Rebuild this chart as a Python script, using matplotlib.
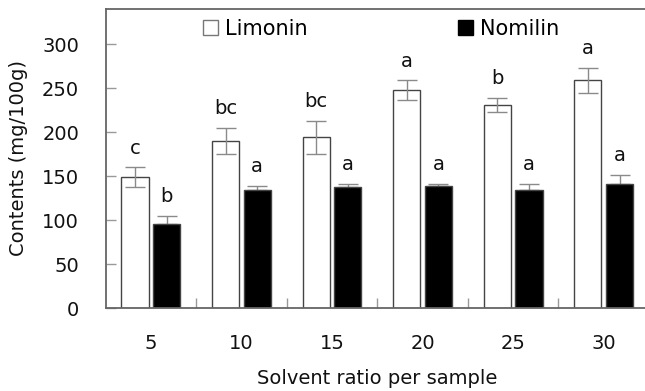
import matplotlib
matplotlib.use("Agg")
import matplotlib.pyplot as plt
import numpy as np
from matplotlib.patches import Patch

plt.rcParams['font.family'] = ['DejaVu Sans']

categories = ["5", "10", "15", "20", "25", "30"]
limonin = [149, 190, 194, 248, 231, 259]
limonin_err = [11, 15, 19, 11, 8, 14]
nomilin = [96, 134, 138, 139, 134, 141]
nomilin_err = [9, 5, 3, 2.5, 7, 10]
limonin_letters = ["c", "bc", "bc", "a", "b", "a"]
nomilin_letters = ["b", "a", "a", "a", "a", "a"]
yticks = [0, 50, 100, 150, 200, 250, 300]

W, H = 645, 391
fig = plt.figure(figsize=(W / 100, H / 100), dpi=100)
left, right, top, bottom = 105.6, 649, 9, 308
ax = fig.add_axes([left / W, (H - bottom) / H, (right - left) / W, (bottom - top) / H])

x = np.arange(len(categories))
bw = 0.30
off = 0.175
edge = '#444444'
ecol = '#8a8a8a'

ax.bar(x - off, limonin, bw, color='white', edgecolor=edge, linewidth=1.0, zorder=2)
ax.bar(x + off, nomilin, bw, color='black', edgecolor=edge, linewidth=1.0, zorder=2)
ax.errorbar(x - off, limonin, yerr=limonin_err, fmt='none', ecolor=ecol, elinewidth=1.0,
            capsize=7, capthick=1.0, zorder=3)
ax.errorbar(x + off, nomilin, yerr=[np.zeros(len(nomilin)), nomilin_err], fmt='none', ecolor=ecol,
            elinewidth=1.0, capsize=7, capthick=1.0, zorder=1)

for xi, v, e, t in zip(x - off, limonin, limonin_err, limonin_letters):
    ax.annotate(t, (xi, v + e), xytext=(0, 7), textcoords='offset points', ha='center', va='bottom',
                fontsize=14, color='#111111')
for xi, v, e, t in zip(x + off, nomilin, nomilin_err, nomilin_letters):
    ax.annotate(t, (xi, v + e), xytext=(0, 7), textcoords='offset points', ha='center', va='bottom',
                fontsize=14, color='#111111')

ax.set_xlim(-0.5, len(categories) - 0.5)
ax.set_ylim(0, 340)
ax.set_yticks(yticks)
ax.set_xticks(x)
ax.set_xticklabels(categories)
ax.set_xticks(np.arange(0.5, len(categories) - 0.5, 1.0), minor=True)
ax.tick_params(axis='x', which='major', length=0, pad=19, labelsize=14, labelcolor='#111111')
ax.tick_params(axis='x', which='minor', direction='in', length=7, color='#999999', width=1)
ax.tick_params(axis='y', direction='in', length=7, color='#999999', width=1, pad=19,
               labelsize=14, labelcolor='#111111')

for s in ax.spines.values():
    s.set_color('#666666')
    s.set_linewidth(1.3)

ax.set_ylabel("Contents (mg/100g)", fontsize=14, color='#111111', labelpad=10)
ax.set_xlabel("Solvent ratio per sample", fontsize=14, color='#111111', labelpad=11)

handles = [Patch(facecolor='white', edgecolor='#777777', linewidth=1.0, label='Limonin'),
           Patch(facecolor='black', edgecolor='black', label='Nomilin')]
ax.legend(handles=handles, ncol=2, loc='upper left', bbox_to_anchor=(0.179, 0.968), frameon=False,
          fontsize=15, handlelength=0.72, handleheight=0.72, handletextpad=0.34, columnspacing=7.2,
          borderpad=0, borderaxespad=0)

fig.savefig("out.png", dpi=100)
